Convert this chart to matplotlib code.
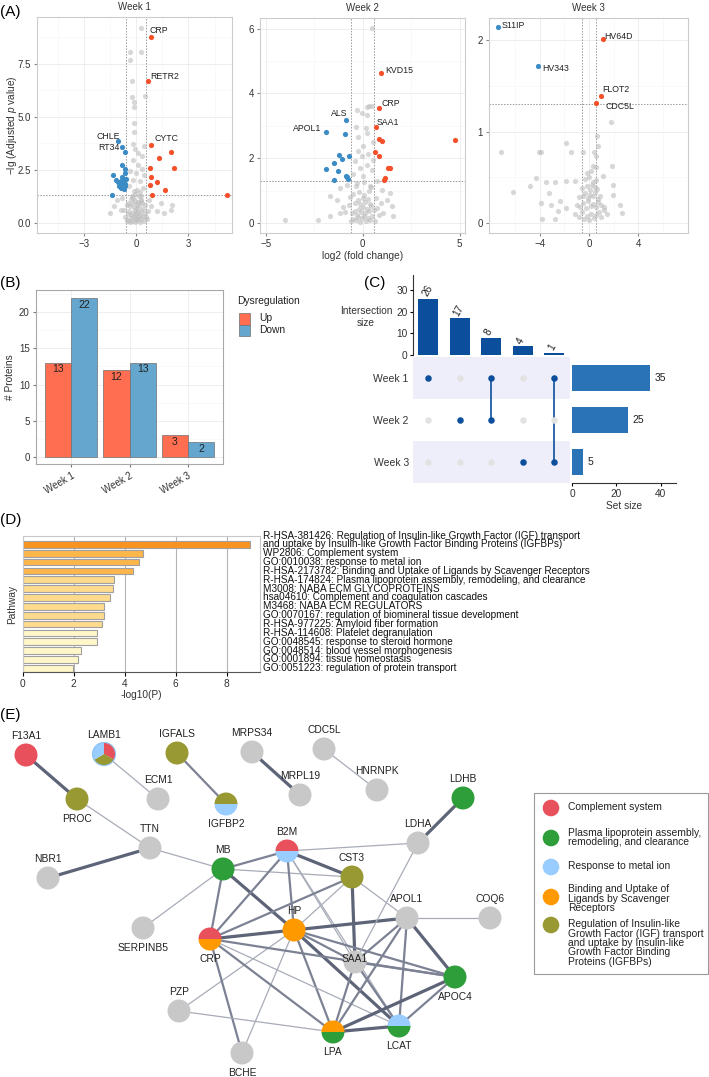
import numpy as np
import matplotlib
matplotlib.use('Agg')
import matplotlib.pyplot as plt
from matplotlib import font_manager
from matplotlib.patches import Circle, Wedge, Rectangle

plt.rcParams['font.family'] = ['Liberation Sans', 'DejaVu Sans']
plt.rcParams['mathtext.fontset'] = 'custom'
plt.rcParams['mathtext.rm'] = 'Liberation Sans'
plt.rcParams['mathtext.it'] = 'Liberation Sans:italic'

# ---------------- data: (A) volcano plots ----------------
w1_up_x = [0.86, 0.67, 0.86, 2.01, 1.28, 0.80, 2.15, 0.86, 1.21, 0.77, 1.67, 0.92, 5.23]
w1_up_y = [8.76, 6.67, 3.66, 3.34, 3.06, 2.59, 2.59, 2.17, 1.92, 1.81, 1.57, 1.33, 1.33]
w1_up_names = ['CRP', 'RETR2', 'CYTC']
w1_dn_x = [-1.03, -0.79, -0.65, -0.79, -0.67, -0.63, -1.36, -0.82, -0.61, -1.17, -0.88,
           -0.71, -0.94, -0.80, -0.63, -0.86, -0.71, -0.98, -0.67, -1.40, -0.77, -1.05]
w1_dn_y = [3.86, 3.60, 3.34, 2.75, 2.53, 2.35, 2.24, 2.18, 2.09, 2.03, 1.96,
           1.92, 1.85, 1.81, 1.85, 1.65, 1.60, 1.76, 1.73, 1.30, 2.06, 1.92]
w1_dn_names = ['CHLE', 'RT34']
w1_ns_x = [0.27, -0.34, 0.25, -0.34, -0.23, 0.50, -0.27, -0.15, -0.11, -0.15, -0.11, -0.21, 0.46,
           -0.06, 0.10, 0.34, -0.21, 0.10, 0.33, -0.33, -0.04, 0.44, -0.17, 0.21, -0.42, 0.40,
           -0.13, -0.23, 0.25, -0.80, 0.73, -1.09, 1.40, 1.97, 1.59, 2.07, -1.28, -1.48, -0.90,
           -0.52, 0.82, 1.21,
           -0.55, -0.45, -0.38, -0.30, -0.22, -0.15, -0.08, 0.00, 0.07, 0.14, 0.22, 0.30, 0.38,
           0.46, 0.55, -0.50, -0.40, -0.28, -0.18, -0.10, -0.02, 0.05, 0.12, 0.20, 0.28, 0.36,
           0.48, -0.35, -0.25, -0.12, -0.05, 0.03, 0.10, 0.18, 0.26, 0.34, -0.20, -0.08, 0.02,
           0.15, 0.24, -0.62, 0.62, -0.70, 0.66, -0.48, 0.52, -0.30, 0.30, 0.00]
w1_ns_y = [9.18, 8.05, 8.05, 7.69, 6.67, 5.97, 5.92, 5.68, 5.46, 4.73, 4.27, 3.74, 3.61,
           3.49, 3.30, 3.14, 2.98, 2.75, 2.54, 2.43, 2.35, 2.28, 2.04, 1.96, 1.73, 1.65,
           1.49, 1.26, 1.26, 1.18, 1.10, 1.10, 0.94, 0.63, 0.47, 0.86, 0.78, 0.47, 0.63,
           0.86, 0.78, 0.55,
           0.08, 0.15, 0.05, 0.22, 0.10, 0.30, 0.04, 0.18, 0.12, 0.26, 0.06, 0.20, 0.35,
           0.10, 0.28, 0.42, 0.55, 0.38, 0.48, 0.62, 0.45, 0.70, 0.52, 0.40, 0.58, 0.65,
           0.45, 0.80, 0.92, 0.75, 1.05, 0.88, 0.98, 0.82, 1.10, 0.95, 1.20, 1.35, 1.55,
           1.28, 1.45, 0.30, 0.20, 0.62, 0.55, 0.95, 0.85, 1.12, 1.02, 0.35]

w2_up_x = [0.93, 0.83, 0.67, 0.84, 1.02, 4.78, 0.65, 0.84, 1.29, 1.41, 1.17, 1.08]
w2_up_y = [4.62, 3.56, 2.95, 2.59, 2.54, 2.56, 2.19, 2.08, 1.70, 1.70, 1.39, 1.32]
w2_up_names = ['KVD15', 'CRP', 'SAA1']
w2_dn_x = [-0.84, -1.88, -0.91, -1.24, -1.07, -0.69, -1.50, -1.88, -1.29, -0.88, -0.79, -0.74, -1.48]
w2_dn_y = [3.17, 2.80, 2.76, 2.09, 1.99, 2.08, 1.85, 1.68, 1.62, 1.46, 1.43, 1.37, 1.32]
w2_dn_names = ['ALS', 'APOL1']
w2_ns_x = [0.50, 0.46, 0.34, 0.24, -0.31, -0.05, 0.21, -0.34, 0.19, 0.24, -0.22, 0.55, 0.03,
           -0.22, 0.29, -0.05, 0.55, -0.40, 0.21, -0.14, 0.46, -0.48, 0.03, 0.72, -0.31, -0.83,
           0.38, -1.17, 0.98, 1.41, -1.69, -1.34, 1.24, 1.50, 1.58, -4.01, -2.29, -1.69, -1.17,
           1.07,
           -0.60, -0.48, -0.36, -0.25, -0.14, -0.04, 0.06, 0.16, 0.27, 0.38, 0.50, 0.62,
           -0.55, -0.42, -0.30, -0.20, -0.09, 0.01, 0.11, 0.22, 0.33, 0.45, 0.58,
           -0.70, -0.38, -0.26, -0.12, 0.00, 0.14, 0.26, 0.40, 0.75,
           -0.90, -0.50, -0.18, 0.08, 0.30, 0.85, -0.35, 0.05, 0.45, -0.65, 0.68, -1.00, 0.95]
w2_ns_y = [6.01, 3.62, 3.62, 3.58, 3.50, 3.40, 3.34, 2.96, 2.93, 2.78, 2.65, 2.49, 2.39,
           2.21, 2.14, 2.06, 1.95, 1.90, 1.80, 1.70, 1.65, 1.52, 1.44, 1.29, 1.23, 1.18,
           1.13, 1.08, 1.03, 0.93, 0.82, 0.72, 0.72, 0.51, 0.23, 0.08, 0.08, 0.21, 0.31,
           0.31,
           0.05, 0.12, 0.08, 0.18, 0.04, 0.14, 0.22, 0.07, 0.16, 0.10, 0.20, 0.06,
           0.30, 0.38, 0.26, 0.42, 0.34, 0.48, 0.30, 0.44, 0.36, 0.52, 0.40,
           0.55, 0.62, 0.70, 0.58, 0.78, 0.66, 0.74, 0.60, 0.45,
           0.35, 0.88, 0.95, 0.85, 0.98, 0.25, 1.15, 1.25, 1.10, 0.80, 0.78, 0.50, 0.62]

w3_up_x = [1.14, 0.95, 0.60]
w3_up_y = [2.02, 1.39, 1.31]
w3_up_names = ['HV64D', 'FLOT2', 'CDC5L']
w3_dn_x = [-7.37, -4.17]
w3_dn_y = [2.15, 1.72]
w3_dn_names = ['S11IP', 'HV343']
w3_ns_x = [1.76, -1.84, -7.13, -4.07, -3.93, -1.44, -0.49, 0.38, 0.65, 0.73, 0.60, 0.33, 0.54,
           1.84, -4.34, -4.77, -6.18, -3.52, -2.79, -1.84, -1.17, -3.25, -3.88, -3.06, -2.38,
           -3.79, -2.76, -2.49, -1.84, 2.49, 2.71, 1.95, 1.14, 1.95,
           -1.10, -0.85, -0.60, -0.40, -0.20, 0.00, 0.20, 0.40, 0.60, 0.80, 1.00, 1.25, 1.50,
           -0.95, -0.70, -0.45, -0.25, -0.05, 0.15, 0.35, 0.55, 0.75, 0.95, 1.20,
           -0.80, -0.50, -0.30, -0.10, 0.10, 0.30, 0.50, 0.70, 0.90,
           -0.60, -0.20, 0.05, 0.25, 0.45, 0.65, -0.35, 0.00, 0.30, 0.55, -0.15, 0.20]
w3_ns_y = [1.11, 0.88, 0.78, 0.78, 0.78, 0.78, 0.78, 0.78, 0.95, 0.84, 0.73, 0.62, 0.61,
           0.62, 0.49, 0.41, 0.34, 0.45, 0.45, 0.46, 0.46, 0.33, 0.22, 0.20, 0.24,
           0.04, 0.04, 0.13, 0.16, 0.20, 0.11, 0.42, 0.51, 0.31,
           0.10, 0.06, 0.12, 0.04, 0.08, 0.03, 0.10, 0.05, 0.09, 0.12, 0.07, 0.14, 0.10,
           0.20, 0.18, 0.22, 0.16, 0.24, 0.19, 0.21, 0.17, 0.23, 0.20, 0.18,
           0.28, 0.30, 0.33, 0.27, 0.31, 0.29, 0.34, 0.26, 0.30,
           0.38, 0.40, 0.36, 0.42, 0.39, 0.37, 0.48, 0.50, 0.45, 0.47, 0.55, 0.57]

# ---------------- data: (B) counts ----------------
weeks = ['Week 1', 'Week 2', 'Week 3']
up_counts = [13, 12, 3]
down_counts = [22, 13, 2]

# ---------------- data: (C) upset ----------------
inter_sizes = [26, 17, 8, 4, 1]
inter_members = [[0], [1], [0, 1], [2], [0, 2]]
set_sizes = [35, 25, 5]

# ---------------- data: (D) enrichment ----------------
pathways = [
    'R-HSA-381426: Regulation of Insulin-like Growth Factor (IGF) transport\n'
    'and uptake by Insulin-like Growth Factor Binding Proteins (IGFBPs)',
    'WP2806: Complement system',
    'GO:0010038: response to metal ion',
    'R-HSA-2173782: Binding and Uptake of Ligands by Scavenger Receptors',
    'R-HSA-174824: Plasma lipoprotein assembly, remodeling, and clearance',
    'M3008: NABA ECM GLYCOPROTEINS',
    'hsa04610: Complement and coagulation cascades',
    'M3468: NABA ECM REGULATORS',
    'GO:0070167: regulation of biomineral tissue development',
    'R-HSA-977225: Amyloid fiber formation',
    'R-HSA-114608: Platelet degranulation',
    'GO:0048545: response to steroid hormone',
    'GO:0048514: blood vessel morphogenesis',
    'GO:0001894: tissue homeostasis',
    'GO:0051223: regulation of protein transport',
]
neg_log_p = [8.89, 4.71, 4.54, 4.34, 3.59, 3.54, 3.41, 3.20, 3.20, 3.09, 2.91, 2.91, 2.27, 2.18, 1.98]

# ---------------- data: (E) network ----------------
node_names = ['F13A1', 'LAMB1', 'IGFALS', 'MRPS34', 'CDC5L', 'PROC', 'ECM1', 'IGFBP2', 'MRPL19',
              'HNRNPK', 'LDHB', 'TTN', 'NBR1', 'MB', 'B2M', 'CST3', 'LDHA', 'APOL1', 'COQ6',
              'SERPINB5', 'HP', 'CRP', 'SAA1', 'APOC4', 'PZP', 'LPA', 'LCAT', 'BCHE']
node_x = [26, 104, 177, 252, 324, 77, 158, 226, 300, 377, 463, 150, 48, 223, 287, 352, 418, 407,
          490, 143, 294, 210, 355, 455, 179, 333, 399, 242]
node_y = [755, 754, 753, 752, 749, 799, 799, 804, 795, 790, 798, 848, 878, 869, 851, 877, 843,
          918, 918, 928, 930, 939, 962, 977, 1011, 1032, 1026, 1053]
node_groups = [['comp'], ['comp', 'igf', 'metal'], ['igf'], [], [], ['igf'], [], ['igf', 'metal'],
               [], [], ['lipo'], [], [], ['lipo'], ['comp', 'metal'], ['igf'], [], [], [], [],
               ['scav'], ['comp', 'scav'], [], ['lipo'], [], ['scav', 'lipo'], ['metal', 'lipo'], []]
node_label_side = ['up', 'up', 'up', 'up', 'up', 'down', 'up', 'down', 'up', 'up', 'up', 'up', 'up',
                   'up', 'up', 'up', 'up', 'up', 'up', 'down', 'up', 'down', 'mid', 'down', 'up',
                   'down', 'down', 'down']
edges = [('F13A1', 'PROC', 3), ('LAMB1', 'ECM1', 1), ('IGFALS', 'IGFBP2', 2), ('MRPS34', 'MRPL19', 3),
         ('CDC5L', 'HNRNPK', 1), ('LDHB', 'LDHA', 3), ('PROC', 'TTN', 1), ('TTN', 'NBR1', 3),
         ('TTN', 'MB', 1), ('MB', 'B2M', 2), ('MB', 'CST3', 1), ('MB', 'CRP', 2), ('MB', 'HP', 3),
         ('MB', 'SERPINB5', 1), ('B2M', 'LDHA', 1), ('B2M', 'CST3', 3), ('B2M', 'CRP', 2),
         ('B2M', 'HP', 2), ('B2M', 'SAA1', 1), ('B2M', 'LCAT', 1), ('CST3', 'CRP', 2),
         ('CST3', 'HP', 1), ('CST3', 'SAA1', 3), ('CST3', 'APOL1', 1), ('HP', 'PZP', 1),
         ('HP', 'BCHE', 1), ('HP', 'APOL1', 3), ('HP', 'CRP', 3), ('HP', 'SAA1', 2), ('HP', 'APOC4', 2),
         ('HP', 'LPA', 2), ('HP', 'LCAT', 3), ('CRP', 'APOC4', 2), ('CRP', 'LPA', 2), ('CRP', 'LCAT', 1),
         ('CRP', 'BCHE', 2), ('APOL1', 'SAA1', 2), ('APOL1', 'APOC4', 3), ('APOL1', 'LCAT', 2),
         ('APOL1', 'LPA', 2), ('APOL1', 'COQ6', 1), ('LDHA', 'SAA1', 1), ('SAA1', 'LPA', 2),
         ('SAA1', 'LCAT', 2), ('SAA1', 'APOC4', 2), ('APOC4', 'LPA', 3), ('APOC4', 'LCAT', 2),
         ('LPA', 'LCAT', 3), ('PZP', 'LPA', 1)]
legend_keys = ['comp', 'lipo', 'metal', 'scav', 'igf']
legend_labels = ['Complement system', 'Plasma lipoprotein assembly,\nremodeling, and clearance',
                 'Response to metal ion', 'Binding and Uptake of\nLigands by Scavenger\nReceptors',
                 'Regulation of Insulin-like\nGrowth Factor (IGF) transport\nand uptake by Insulin-like\n'
                 'Growth Factor Binding\nProteins (IGFBPs)']

# ---------------- figure ----------------
W, H = 709, 1077
fig = plt.figure(figsize=(W / 100, H / 100), dpi=100)


def px_axes(l, t, r, b):
    return fig.add_axes([l / W, 1 - b / H, (r - l) / W, (b - t) / H])


def ftext(x, y, s, **kw):
    return fig.text(x / W, 1 - y / H, s, **kw)


def frect(x, y, w, h, **kw):
    fig.add_artist(Rectangle((x / W, 1 - (y + h) / H), w / W, h / H, transform=fig.transFigure, **kw))


RED = '#F4502A'
BLUE = '#3B8BC5'
TXT = '#333333'


def volcano(ax, ns, up, dn, labels, xlim, ylim, xt, yt, xminor, yminor, yfmt):
    ax.set_xlim(xlim)
    ax.set_ylim(ylim)
    ax.set_xticks(xt)
    ax.set_yticks(yt)
    ax.set_yticklabels([yfmt.format(v) for v in yt])
    ax.set_xticks(xminor, minor=True)
    ax.set_yticks(yminor, minor=True)
    ax.grid(which='major', color='#EBEBEB', lw=0.6)
    ax.grid(which='minor', color='#F5F5F5', lw=0.4)
    ax.set_axisbelow(True)
    for sp in ax.spines.values():
        sp.set_color('#CCCCCC')
        sp.set_linewidth(0.8)
    ax.tick_params(which='major', length=2.5, color='#888888', labelsize=7, labelcolor=TXT, pad=2)
    ax.tick_params(which='minor', length=0)
    ax.scatter(ns[0], ns[1], s=14, c='#BDBDBD', alpha=0.6, lw=0, zorder=2)
    ax.scatter(up[0], up[1], s=14, c=RED, lw=0, zorder=3)
    ax.scatter(dn[0], dn[1], s=14, c=BLUE, lw=0, zorder=3)
    for v in (-0.585, 0.585):
        ax.axvline(v, ls=(0, (1.5, 1.5)), color='#999999', lw=0.7, zorder=1)
    ax.axhline(1.301, ls=(0, (1.5, 1.5)), color='#999999', lw=0.7, zorder=1)
    for name, x, y, dx, dy, ha in labels:
        ax.annotate(name, (x, y), xytext=(dx, dy), textcoords='offset pixels',
                    ha=ha, va='center', fontsize=6.3, color='#222222', zorder=4)


lab1 = [('CRP', w1_up_x[0], w1_up_y[0], -2, 6, 'left'),
        ('RETR2', w1_up_x[1], w1_up_y[1], 2, 5, 'left'),
        ('CYTC', w1_up_x[2], w1_up_y[2], 3, 7, 'left'),
        ('CHLE', w1_dn_x[0], w1_dn_y[0], 2, 5, 'right'),
        ('RT34', w1_dn_x[1], w1_dn_y[1], -3, -1, 'right')]
lab2 = [('KVD15', w2_up_x[0], w2_up_y[0], 5, 3, 'left'),
        ('CRP', w2_up_x[1], w2_up_y[1], 3, 4, 'left'),
        ('SAA1', w2_up_x[2], w2_up_y[2], 1, 5, 'left'),
        ('ALS', w2_dn_x[0], w2_dn_y[0], 1, 7, 'right'),
        ('APOL1', w2_dn_x[1], w2_dn_y[1], -5, 4, 'right')]
lab3 = [('HV64D', w3_up_x[0], w3_up_y[0], 1, 2, 'left'),
        ('FLOT2', w3_up_x[1], w3_up_y[1], 2, 7, 'left'),
        ('CDC5L', w3_up_x[2], w3_up_y[2], 9, -3, 'left'),
        ('S11IP', w3_dn_x[0], w3_dn_y[0], 3, 1, 'left'),
        ('HV343', w3_dn_x[1], w3_dn_y[1], 5, -3, 'left')]

axA1 = px_axes(37, 17, 232, 233)
volcano(axA1, (w1_ns_x, w1_ns_y), (w1_up_x, w1_up_y), (w1_dn_x, w1_dn_y), lab1,
        (-5.7, 5.5), (-0.47, 9.7), [-3, 0, 3], [0, 2.5, 5.0, 7.5],
        [-4.5, -1.5, 1.5, 4.5], [1.25, 3.75, 6.25, 8.75], '{:.1f}')
axA2 = px_axes(260, 18, 465, 233)
volcano(axA2, (w2_ns_x, w2_ns_y), (w2_up_x, w2_up_y), (w2_dn_x, w2_dn_y), lab2,
        (-5.3, 5.28), (-0.31, 6.33), [-5, 0, 5], [0, 2, 4, 6],
        [-2.5, 2.5], [1, 3, 5], '{:.0f}')
axA3 = px_axes(489, 18, 688, 233)
volcano(axA3, (w3_ns_x, w3_ns_y), (w3_up_x, w3_up_y), (w3_dn_x, w3_dn_y), lab3,
        (-8.13, 8.05), (-0.11, 2.245), [-4, 0, 4], [0, 1, 2],
        [-6, -2, 2, 6], [0.5, 1.5], '{:.0f}')
for ax, t in zip((axA1, axA2, axA3), weeks):
    ax.set_title(t, fontsize=7.0, color=TXT, pad=5)
ftext(12, 125, '−lg (Adjusted $\\mathit{p}$ value)', rotation=90, ha='center', va='center',
      fontsize=7.3, color=TXT)
ftext(363, 256, 'log2 (fold change)', ha='center', va='center', fontsize=7.3, color=TXT)

# ---------------- (B) ----------------
axB = px_axes(36, 290, 223, 464)
xb = np.arange(len(weeks))
UPC, DNC = '#FF6E50', '#65A6CE'
axB.bar(xb - 0.225, up_counts, 0.45, color=UPC, edgecolor='#707070', lw=0.5, zorder=2)
axB.bar(xb + 0.225, down_counts, 0.45, color=DNC, edgecolor='#707070', lw=0.5, zorder=2)
for i in range(len(weeks)):
    axB.text(xb[i] - 0.225, up_counts[i] - 0.92, str(up_counts[i]), ha='center', va='center',
             fontsize=7.5, color='#222222', zorder=3)
    axB.text(xb[i] + 0.225, down_counts[i] - 0.92, str(down_counts[i]), ha='center', va='center',
             fontsize=7.5, color='#222222', zorder=3)
axB.set_xlim(-0.6, 2.6)
axB.set_ylim(-1.02, 23.1)
axB.set_xticks(xb)
axB.set_xticklabels(weeks, rotation=30, ha='right', rotation_mode='anchor')
axB.set_yticks([0, 5, 10, 15, 20])
axB.set_yticks([2.5, 7.5, 12.5, 17.5, 22.5], minor=True)
axB.grid(which='major', color='#EBEBEB', lw=0.6)
axB.grid(which='minor', axis='y', color='#F5F5F5', lw=0.4)
axB.set_axisbelow(True)
for sp in axB.spines.values():
    sp.set_color('#A8A8A8')
axB.tick_params(which='major', length=2.5, color='#777777', labelsize=7, labelcolor=TXT, pad=2)
axB.tick_params(which='minor', length=0)
axB.set_ylabel('# Proteins', fontsize=7.3, color=TXT, labelpad=3)
# legend
ftext(237, 301, 'Dysregulation', ha='left', va='center', fontsize=7.4, color='#222222')
frect(239.5, 313, 11, 11.5, facecolor=UPC, edgecolor='#707070', lw=0.5)
frect(239.5, 324.5, 11, 11.5, facecolor=DNC, edgecolor='#707070', lw=0.5)
ftext(259, 318, 'Up', ha='left', va='center', fontsize=7.4, color='#222222')
ftext(259, 330, 'Down', ha='left', va='center', fontsize=7.4, color='#222222')

# ---------------- (C) ----------------
DARK = '#0B4F9C'
axC1 = px_axes(413, 275, 570, 355)
xc = np.arange(len(inter_sizes))
axC1.bar(xc, inter_sizes, 0.63, color=DARK)
for i, v in enumerate(inter_sizes):
    axC1.text(xc[i] - 0.12, v + 1.5, str(v), rotation=60, rotation_mode='anchor', ha='left',
              va='center', fontsize=7.3, color='#222222')
axC1.set_xlim(-0.48, 4.5)
axC1.set_ylim(0, 37)
axC1.set_yticks([0, 10, 20, 30])
axC1.set_xticks([])
for s in ('top', 'right', 'bottom'):
    axC1.spines[s].set_visible(False)
axC1.spines['left'].set_color('#333333')
axC1.tick_params(axis='y', length=2.5, labelsize=7.3, labelcolor=TXT, pad=1.5)
ftext(366, 317, 'Intersection\nsize', ha='center', va='center', fontsize=7.3, color=TXT,
      linespacing=1.15)

axC2 = px_axes(413, 357, 570, 483)
axC2.set_xlim(-0.48, 4.5)
axC2.set_ylim(2.5, -0.5)
for r in (0, 2):
    axC2.axhspan(r - 0.5, r + 0.5, color='#EEEEFB', lw=0, zorder=0)
for i, mem in enumerate(inter_members):
    for r in range(3):
        axC2.scatter(xc[i], r, s=22, c=DARK if r in mem else '#E2E2E2', lw=0, zorder=3)
    if len(mem) > 1:
        axC2.plot([xc[i], xc[i]], [min(mem), max(mem)], color=DARK, lw=1.2, zorder=2)
axC2.set_yticks(range(3))
axC2.set_yticklabels(weeks)
axC2.set_xticks([])
axC2.tick_params(axis='y', length=0, labelsize=7.5, labelcolor=TXT, pad=3)
for sp in axC2.spines.values():
    sp.set_visible(False)

axC3 = px_axes(572, 357, 676, 483)
axC3.barh(range(3), set_sizes, 0.6, color='#2A73B7')
for r, v in enumerate(set_sizes):
    axC3.text(v + 2.2, r, str(v), ha='left', va='center', fontsize=7.5, color='#222222')
axC3.set_ylim(2.5, -0.5)
axC3.set_xlim(0, 46.8)
axC3.set_yticks([])
axC3.set_xticks([0, 20, 40])
for s in ('top', 'right', 'left'):
    axC3.spines[s].set_visible(False)
axC3.spines['bottom'].set_color('#333333')
axC3.tick_params(axis='x', length=2.5, labelsize=7.3, labelcolor=TXT, pad=1.5)
axC3.set_xlabel('Set size', fontsize=7.3, color=TXT, labelpad=2)

# ---------------- (D) ----------------
names_avail = {f.name for f in font_manager.fontManager.ttflist}
if 'Liberation Sans Narrow' in names_avail:
    dfam, dsize = 'Liberation Sans Narrow', 8.8
else:
    dfam, dsize = 'Liberation Sans', 7.2
axD = px_axes(22.7, 535.7, 260, 672.3)
yd = np.arange(len(neg_log_p))
dcols = ['#F7931E' if v > 6 else '#FDB64A' if v > 4 else '#FDDA8C' if v > 3 else '#FFF7CA'
         for v in neg_log_p]
axD.barh(yd, neg_log_p, 0.76, color=dcols, edgecolor='#A0A0A0', lw=0.8, zorder=2)
axD.set_ylim(14.45, -0.97)
axD.set_xlim(0, 9.3)
axD.set_xticks([0, 2, 4, 6, 8])
axD.set_yticks([])
axD.grid(axis='x', color='#B5B5B5', lw=0.8, zorder=0)
axD.set_axisbelow(True)
for sp in axD.spines.values():
    sp.set_color('#C8C8C8')
axD.spines['bottom'].set_color('#555555')
axD.tick_params(axis='x', length=3, labelsize=7.3, labelcolor=TXT, pad=1.5)
axD.set_xlabel('-log10(P)', fontsize=7.3, color=TXT, labelpad=1)
axD.set_ylabel('Pathway', fontsize=7.3, color=TXT, labelpad=4)
ytr = axD.get_yaxis_transform()
for i, name in enumerate(pathways):
    yy = i - 0.5 if '\n' in name else i
    axD.text(1.011, yy, name, transform=ytr, ha='left', va='center', fontsize=dsize,
             family=dfam, color='#111111', linespacing=0.84, clip_on=False)

# ---------------- (E) ----------------
GCOL = {'comp': '#E8505B', 'lipo': '#2E9E3A', 'metal': '#99CCFF', 'scav': '#FF9900',
        'igf': '#999933'}
axE = px_axes(0, 700, 709, 1077)
axE.set_xlim(0, W)
axE.set_ylim(1077, 700)
axE.axis('off')
pos = {n: (x, y) for n, x, y in zip(node_names, node_x, node_y)}
ecol = {1: '#A8ACB8', 2: '#7C8294', 3: '#5E6478'}
elw = {1: 0.9, 2: 1.6, 3: 2.3}
for a, b, w in edges:
    axE.plot([pos[a][0], pos[b][0]], [pos[a][1], pos[b][1]], color=ecol[w], lw=elw[w], zorder=1,
             solid_capstyle='round')
R = 11.5
for n, x, y, grp, side in zip(node_names, node_x, node_y, node_groups, node_label_side):
    if len(grp) == 0:
        axE.add_patch(Circle((x, y), R, color='#C8C8C8', lw=0, zorder=3))
    elif len(grp) == 1:
        axE.add_patch(Circle((x, y), R, color=GCOL[grp[0]], lw=0, zorder=3))
    else:
        start = 180 if len(grp) == 2 else 90
        step = 360 / len(grp)
        for k, g in enumerate(grp):
            a1 = start - k * step
            a2 = a1 - step
            axE.add_patch(Wedge((x, y), R, -a1, -a2, color=GCOL[g], lw=0, zorder=3))
        if len(grp) > 2:
            axE.add_patch(Circle((x, y), R, fill=False, ec='#8CC2F2', lw=0.8, zorder=4))
    if side == 'up':
        axE.text(x, y - 19, n, ha='center', va='center', fontsize=7.4, color='#222222', zorder=5)
    elif side == 'down':
        axE.text(x, y + 20, n, ha='center', va='center', fontsize=7.4, color='#222222', zorder=5)
    else:
        axE.text(x, y - 3, n, ha='center', va='center', fontsize=7.4, color='#222222', zorder=5)

axE.add_patch(Rectangle((534, 793), 174, 181, facecolor='white', edgecolor='#9A9A9A', lw=0.8,
                        zorder=6))
leg_y = [808, 838, 867, 897, 925]
leg_ty = [807, 837.5, 866, 898.5, 943]
for k, lab, cy, ty in zip(legend_keys, legend_labels, leg_y, leg_ty):
    axE.add_patch(Circle((551, cy), 8.3, color=GCOL[k], lw=0, zorder=7))
    axE.text(568, ty, lab, ha='left', va='center', fontsize=7.4, color='#222222',
             linespacing=0.92, zorder=7)

# panel letters
ftext(0, 12, '(A)', fontsize=11, va='center', ha='left')
ftext(0, 283, '(B)', fontsize=11, va='center', ha='left')
ftext(364, 283, '(C)', fontsize=11, va='center', ha='left')
ftext(0, 520, '(D)', fontsize=11, va='center', ha='left')
ftext(0, 715, '(E)', fontsize=11, va='center', ha='left')

fig.savefig('out.png', dpi=100)
